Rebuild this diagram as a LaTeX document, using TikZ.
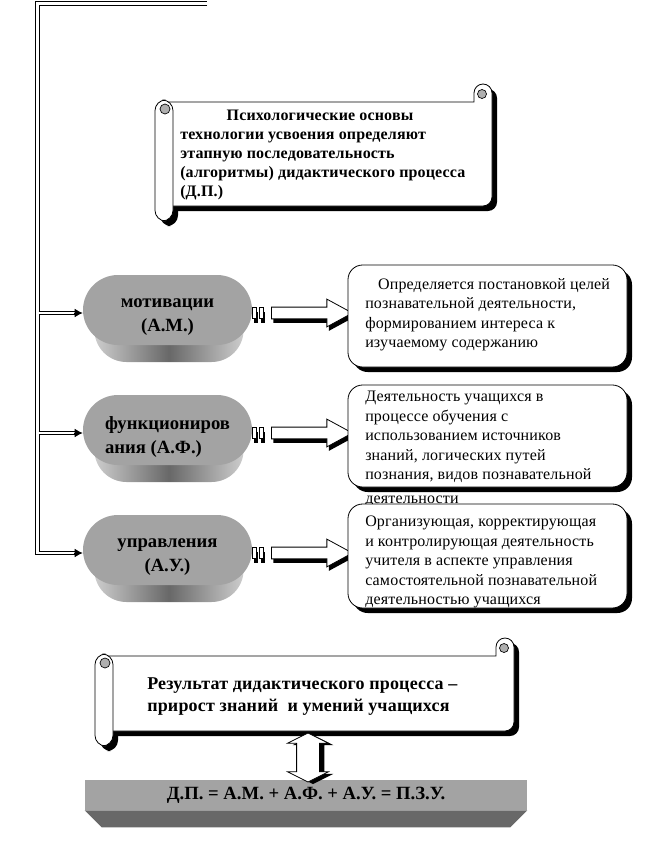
\documentclass[tikz,border=0pt]{standalone}
\usepackage{fontspec}
\setmainfont{Liberation Serif}
\newfontfamily\boxfont[LetterSpace=1]{Liberation Serif}
\newfontfamily\scrollfont[LetterSpace=1]{Liberation Serif}
\usetikzlibrary{arrows.meta,calc,positioning,shapes.misc,shapes.arrows,shadows}
\definecolor{faceGray}{RGB}{163,163,163}
\definecolor{sideGray}{RGB}{104,104,104}
\definecolor{sideLight}{RGB}{205,205,205}
\definecolor{curlGray}{RGB}{175,175,175}

\begin{document}
\begin{tikzpicture}[x=0.75pt, y=-0.75pt,
    trunk/.style={double, double distance=1.8pt, line width=0.7pt},
    tip/.style={-{Latex[length=6pt,width=6.5pt]}, line width=0.7pt},
    stage/.style={rounded rectangle, fill=faceGray, minimum width=126.75pt, minimum height=52.5pt, inner sep=0pt},
    stagetext/.style={inner sep=0pt, font=\fontsize{14}{18}\selectfont\bfseries, align=center},
    stageside/.style={rounded rectangle, minimum width=118.5pt, minimum height=48pt, left color=sideLight, right color=sideLight, middle color=sideGray},
    blockarrow/.style={single arrow, draw, fill=white, line width=0.6pt, inner xsep=0pt, inner ysep=4.1pt, minimum height=60.75pt, single arrow head extend=6pt, single arrow tip angle=57, drop shadow={opacity=1, fill=black, shadow xshift=1.5pt, shadow yshift=-3pt}},
    stripe/.style={draw, fill=white, line width=0.6pt, drop shadow={opacity=1, fill=black, shadow xshift=1.5pt, shadow yshift=-3pt}},
    infobox/.style={draw, fill=white, rounded corners=11pt, line width=0.6pt, minimum width=209.25pt, minimum height=76.5pt, drop shadow={opacity=1, fill=black, shadow xshift=3.75pt, shadow yshift=-3.75pt}},
    infotext/.style={anchor=north west, align=left, inner sep=0pt, font=\boxfont\fontsize{12}{14.6}\selectfont},
    scrolltext/.style={anchor=west, align=left, inner sep=0pt},
    formula/.style={fill=faceGray, minimum width=331.5pt, minimum height=22.5pt, font=\fontsize{14}{16}\selectfont\bfseries},
    updown/.style={double arrow, shape border rotate=90, draw, fill=white, line width=0.6pt, inner sep=8.25pt, minimum height=36.75pt, double arrow head extend=6.75pt, double arrow tip angle=127, drop shadow={opacity=1, fill=black, shadow xshift=3.75pt, shadow yshift=-1.5pt}}
]
\useasboundingbox (0,0) rectangle (649,853);

% Stages (3D pills)
\node[stageside] (motside) at (169,330) {};
\node[stage] (mot) at (167.5,310) {};
\node[stagetext] (motlabel) at ($(mot)+(0,7)$) {мотивации\\(А.М.)};
\node[stageside] (funside) at (169,450) {};
\node[stage] (fun) at (167.5,430) {};
\node[stagetext, align=left] (funlabel) at ($(fun)+(0,7)$) {функциониров\\ания (А.Ф.)};
\node[stageside] (ctlside) at (169,570) {};
\node[stage] (ctl) at (167.5,550) {};
\node[stagetext] (ctllabel) at ($(ctl)+(0,7)$) {управления\\(А.У.)};

% Trunk on the left
\coordinate (topend) at (207,3.5);
\coordinate (corner) at (37.5,3.5);
\draw[trunk] (topend) -- (corner) |- ($(ctl.west)+(-7,3)$);
\draw[trunk] ($(corner |- mot.west)+(1,3)$) -- ($(mot.west)+(-7,3)$);
\draw[trunk] ($(corner |- fun.west)+(1,3)$) -- ($(fun.west)+(-7,3)$);
\draw[tip] ($(mot.west)+(-9,3)$) -- ($(mot.west)+(0,3)$);
\draw[tip] ($(fun.west)+(-9,3)$) -- ($(fun.west)+(0,3)$);
\draw[tip] ($(ctl.west)+(-9,3)$) -- ($(ctl.west)+(0,3)$);

% Top scroll
\begin{scope}[shift={(5,5)}]
  \fill (164,102) -- (474,102) -- (474,93) arc[start angle=180, end angle=360, radius=9] -- (492,197) arc[start angle=0, end angle=90, radius=9] -- (164,206) -- cycle;
  \fill[rounded corners=8] (155,100) rectangle (173,221);
\end{scope}
\draw[fill=white, line width=0.6pt] (164,102) -- (474,102) -- (474,93) arc[start angle=180, end angle=360, radius=9] -- (492,197) arc[start angle=0, end angle=90, radius=9] -- (164,206) -- cycle;
\draw[fill=curlGray, line width=0.5pt] (482,94) circle[radius=4.5];
\draw[fill=white, line width=0.6pt, rounded corners=8] (155,100) rectangle (173,221);
\draw[fill=curlGray, line width=0.5pt] (165,109) circle[radius=5];
\node[scrolltext, font=\scrollfont\fontsize{12}{14.25}\selectfont\bfseries] (basis) at (180,155)
  {\hspace*{2.9em}Психологические основы\\технологии усвоения определяют\\этапную последовательность\\(алгоритмы) дидактического процесса\\(Д.П.)};

% Arrows from stages to boxes
\draw[stripe] (252,307.5) rectangle (256,318.5);
\draw[stripe] (259,307.5) rectangle (263,318.5);
\node[blockarrow] (arrM) at (306.5,313) {};
\draw[stripe] (252,427.5) rectangle (256,438.5);
\draw[stripe] (259,427.5) rectangle (263,438.5);
\node[blockarrow] (arrF) at (306.5,433) {};
\draw[stripe] (252,547.5) rectangle (256,558.5);
\draw[stripe] (259,547.5) rectangle (263,558.5);
\node[blockarrow] (arrU) at (306.5,553) {};

% Description boxes
\node[infobox] (infoM) at (487.5,316) {};
\node[infotext] (infoMtext) at (365,278)
  {\hspace*{0.8em}Определяется постановкой целей\\познавательной деятельности,\\формированием интереса к\\изучаемому содержанию};
\node[infobox] (infoF) at (487.5,436) {};
\node[infotext] (infoFtext) at (365,391)
  {Деятельность учащихся в\\процессе обучения с\\использованием источников\\знаний, логических путей\\познания, видов познавательной\\[3pt]деятельности};
\node[infobox, minimum height=78pt] (infoU) at (487.5,556) {};
\node[infotext] (infoUtext) at (365,516)
  {Организующая, корректирующая\\и контролирующая деятельность\\учителя в аспекте управления\\самостоятельной познавательной\\деятельностью учащихся};

% Bottom scroll
\begin{scope}[shift={(5,5)}]
  \fill (104,656) -- (496,656) -- (496,647) arc[start angle=180, end angle=360, radius=9] -- (514,722) arc[start angle=0, end angle=90, radius=9] -- (104,731) -- cycle;
  \fill[rounded corners=8] (95,654) rectangle (113,746);
\end{scope}
\draw[fill=white, line width=0.6pt] (104,656) -- (496,656) -- (496,647) arc[start angle=180, end angle=360, radius=9] -- (514,722) arc[start angle=0, end angle=90, radius=9] -- (104,731) -- cycle;
\draw[fill=curlGray, line width=0.5pt] (504,648) circle[radius=4.5];
\draw[fill=white, line width=0.6pt, rounded corners=8] (95,654) rectangle (113,746);
\draw[fill=curlGray, line width=0.5pt] (105,663) circle[radius=5];
\node[scrolltext, font=\scrollfont\fontsize{13.5}{16.5}\selectfont\bfseries] (result) at (147,697)
  {Результат дидактического процесса –\\прирост знаний\ \ и умений учащихся};

% Formula bar
\node[formula] (sum) at (306,795) {Д.П. = А.М. + А.Ф. + А.У. = П.З.У.};
\fill[sideGray] (sum.south west) -- (sum.south east) -- ++(-17,17) -- ($(sum.south west)+(17,17)$) -- cycle;

% Link between result and formula
\node[updown] (link) at (308,757.5) {};

\end{tikzpicture}
\end{document}
